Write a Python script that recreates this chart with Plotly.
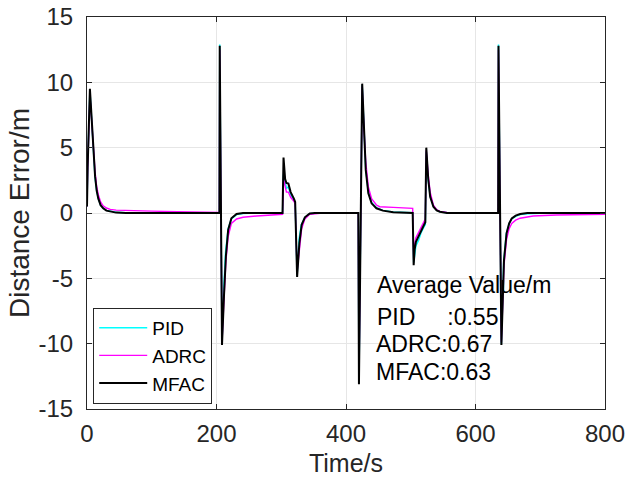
import plotly.graph_objects as go

# ---- data ----
t_pid = [0, 1, 4.5, 7, 10, 12.5, 15, 17.5, 21, 25, 30, 36, 45, 60, 100, 204.5, 205, 208.5, 211, 214, 218, 223, 231, 241, 260,
         302, 303.5, 306, 308, 311, 314.5, 319.5, 321.5, 324.5, 327.5, 331, 336.5, 344, 355,
         419, 420, 425, 428, 430.5, 434.5, 439.5, 447, 457, 473, 500, 503, 504.5, 506, 508, 512, 516, 521, 522.5,
         524, 527, 530, 535, 540, 545, 556, 580, 635, 635.5, 640, 643.5, 647.5, 652, 656, 662, 669, 680, 700, 800]
y_pid = [0.5, 3.4, 9.4, 7.0, 4.4, 2.7, 1.7, 1.1, 0.6, 0.38, 0.2, 0.12, 0.05, 0.02, 0, 0, 12.9, -10.0, -6.0, -3.0, -1.2, -0.45, -0.12, -0.03, 0,
         0, 3.0, 2.2, 1.9, 2.0, 1.4, 1.0, 0.8, -4.8, -2.0, -0.9, -0.35, -0.05, 0,
         0, -13.0, 9.8, 5.9, 3.4, 1.6, 0.8, 0.4, 0.2, 0.08, 0.02, 0.02, -3.8, -3.0, -2.5, -2.1, -1.5, -1.0, -0.9,
         4.7, 2.5, 1.3, 0.5, 0.22, 0.1, 0.02, 0, 0, 12.9, -10.0, -3.8, -1.6, -0.8, -0.45, -0.25, -0.12, -0.05, -0.02, 0]

t_adrc = [0, 1, 4.5, 7, 10, 12.5, 15, 17.5, 21, 25, 30, 36, 45, 66, 100, 140, 174, 204.5, 205, 208.5, 211.5, 214.5, 218, 223, 231, 241, 262, 280, 298,
          302, 303.5, 306, 308, 311, 314.5, 319.5, 321.5, 324.5, 328, 331.5, 336.5, 344, 360,
          419, 420, 425, 428, 430.5, 434.5, 439.5, 447, 452, 473, 501, 503, 504.5, 506, 508, 512, 516, 521, 522.5,
          524, 527, 530, 535, 540, 545, 556, 580, 635, 635.5, 640, 644, 648, 652, 656, 662, 669, 689, 725, 800]
y_adrc = [0.5, 3.3, 9.1, 7.2, 4.8, 3.1, 2.0, 1.4, 0.85, 0.55, 0.38, 0.28, 0.22, 0.18, 0.14, 0.1, 0.07, 0.05, 12.5, -9.9, -6.6, -3.7, -1.8, -0.8, -0.46, -0.33, -0.23, -0.15, -0.1,
          -0.1, 2.6, 2.0, 1.6, 1.6, 1.2, 0.9, 0.7, -4.5, -2.6, -1.2, -0.45, -0.1, -0.02,
          0, -12.8, 9.7, 6.2, 3.9, 2.0, 1.1, 0.61, 0.48, 0.43, 0.38, 0.36, -3.5, -2.4, -1.9, -1.5, -1.0, -0.6, -0.5,
          4.8, 2.9, 1.6, 0.6, 0.25, 0.12, 0.05, 0.02, 0, 12.5, -9.9, -4.0, -2.0, -1.2, -0.8, -0.55, -0.4, -0.23, -0.15, -0.1]

t_mfac = [0, 1, 4.5, 7, 10, 12.5, 15, 17.5, 21, 25, 30, 36, 45, 60, 204.5, 205, 208.5, 211.5, 214.5, 218, 223, 231, 241,
          302, 303.5, 306, 308, 311, 314.5, 319.5, 321.5, 324.5, 328, 331.5, 336.5, 344, 352,
          419, 420, 425, 428, 430.5, 434.5, 439.5, 447, 457, 473, 500, 503, 504.5, 506, 508, 512, 516, 521, 522.5,
          524, 527, 530, 535, 540, 545, 556, 635, 635.5, 640, 644, 648, 652, 656, 662, 669, 680, 800]
y_mfac = [0.5, 3.5, 9.5, 7.2, 4.5, 2.8, 1.7, 1.1, 0.6, 0.36, 0.18, 0.1, 0.03, 0, 0, 12.8, -10.1, -6.4, -3.3, -1.3, -0.4, -0.08, 0,
          0, 4.25, 2.6, 2.3, 2.25, 1.6, 1.1, 0.85, -4.9, -2.3, -0.9, -0.33, -0.03, 0,
          0, -13.1, 9.9, 5.8, 3.3, 1.5, 0.74, 0.36, 0.18, 0.06, 0, 0, -4.0, -2.8, -2.2, -1.8, -1.3, -0.8, -0.7,
          5.0, 2.6, 1.25, 0.48, 0.2, 0.1, 0, 0, 12.8, -10.1, -3.6, -1.55, -0.8, -0.41, -0.2, -0.08, 0, 0]

avg_labels = ["Average Value/m", "PID     :0.55", "ADRC:0.67", "MFAC:0.63"]
x_ticks = [0, 200, 400, 600, 800]
x_tick_text = ["0", "200", "400", "600", "800"]
y_ticks = [-15, -10, -5, 0, 5, 10, 15]
y_tick_text = ["-15", "-10", "-5", "0", "5", "10", "15"]

FONT = "Arial, Liberation Sans, sans-serif"
TXT = "#262626"

fig = go.Figure()
fig.add_trace(go.Scatter(x=t_pid, y=y_pid, mode="lines", name="PID",
                         line=dict(color="#00ffff", width=1.5)))
fig.add_trace(go.Scatter(x=t_adrc, y=y_adrc, mode="lines", name="ADRC",
                         line=dict(color="#ff00ff", width=1.4)))
fig.add_trace(go.Scatter(x=t_mfac, y=y_mfac, mode="lines", name="MFAC",
                         line=dict(color="#000000", width=2)))

ann_x = [445, 445, 443, 443]
ann_y = [-5.5, -7.95, -10.05, -12.2]
for tx, ax_, ay_ in zip(avg_labels, ann_x, ann_y):
    fig.add_annotation(x=ax_, y=ay_, xref="x", yref="y", text=tx, showarrow=False,
                       xanchor="left", yanchor="middle",
                       font=dict(family=FONT, size=23, color="#000000"))

axis_common = dict(showline=True, linecolor=TXT, linewidth=1, mirror="ticks",
                   ticks="inside", ticklen=5, tickcolor=TXT, automargin=False,
                   showgrid=True, gridcolor="#e6e6e6", gridwidth=1, zeroline=False,
                   tickfont=dict(family=FONT, size=24, color=TXT))

fig.update_layout(
    width=639, height=477,
    margin=dict(l=87, r=34, t=17, b=68),
    paper_bgcolor="white", plot_bgcolor="white",
    showlegend=True,
    legend=dict(x=0.012, y=0.258, xanchor="left", yanchor="top",
                bgcolor="white", bordercolor=TXT, borderwidth=1,
                font=dict(family=FONT, size=19, color="#000000"),
                tracegroupgap=0, itemwidth=48),
    xaxis=dict(range=[0, 800], tickvals=x_ticks, ticktext=x_tick_text, ticklabelstandoff=3,
               title=dict(text="Time/s", font=dict(family=FONT, size=25, color=TXT)),
               **axis_common),
    yaxis=dict(range=[-15, 15], tickvals=y_ticks, ticktext=y_tick_text, ticklabelstandoff=8,
               title=dict(text="Distance Error/m", font=dict(family=FONT, size=28, color=TXT), standoff=0),
               **axis_common),
)

fig.write_html("out.html")
